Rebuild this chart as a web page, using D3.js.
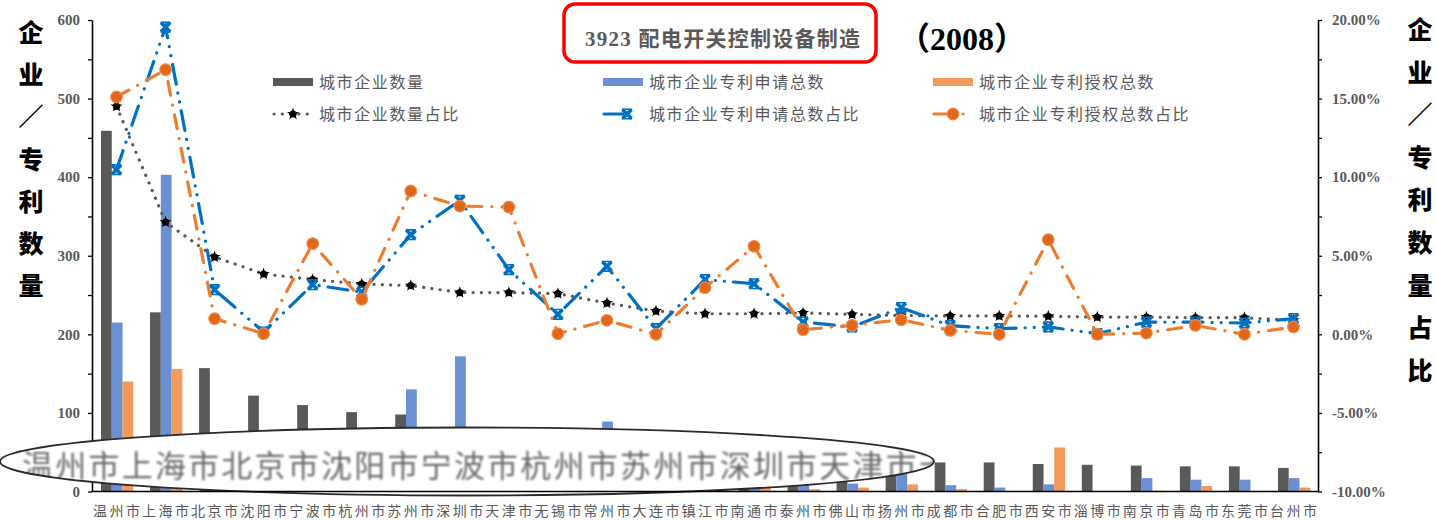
<!DOCTYPE html>
<html>
<head>
<meta charset="utf-8">
<script src="https://cdn.jsdelivr.net/npm/d3@7"></script>
<style>
  body { margin: 0; background: #fff; }
  svg { display: block; }
</style>
</head>
<body>
<svg id="chart" width="1437" height="520"></svg>
<script>
// ---- data: 3923 配电开关控制设备制造 (2008) ----
const cities = ["温州市","上海市","北京市","沈阳市","宁波市","杭州市","苏州市","深圳市","天津市","无锡市",
  "常州市","大连市","镇江市","南通市","泰州市","佛山市","扬州市","成都市","合肥市","西安市",
  "淄博市","南京市","青岛市","东莞市","台州市"];

// 城市企业数量
const firmCount  = [459, 228, 157, 122, 110, 101, 98, 82, 81, 79, 63, 47, 42, 42, 42, 40, 38, 37, 37, 35, 34, 33, 32, 32, 30];
// 城市企业专利申请总数
const applyCount = [215, 403, 58, 3, 65, 55, 130, 172, 80, 26, 89, 7, 71, 66, 16, 10, 35, 8, 5, 9, 0, 17, 15, 15, 17];
// 城市企业专利授权总数
const grantCount = [140, 156, 9, 0, 53, 21, 80, 75, 75, 0, 8, 0, 27, 52, 3, 5, 9, 3, 0, 56, 0, 1, 7, 0, 5];

// 占比 (%)
const firmShare  = [14.5, 7.14, 4.92, 3.84, 3.48, 3.2, 3.1, 2.66, 2.66, 2.59, 1.99, 1.48, 1.31, 1.31, 1.36, 1.27, 1.2, 1.17, 1.17, 1.15, 1.1, 1.1, 1.06, 1.06, 0.89];
const applyShare = [10.48, 19.55, 2.84, 0.15, 3.16, 2.69, 6.34, 8.52, 4.12, 1.27, 4.33, 0.36, 3.48, 3.22, 0.78, 0.47, 1.7, 0.55, 0.36, 0.47, 0.04, 0.78, 0.78, 0.72, 1.0];
const grantShare = [15.1, 16.84, 1.0, 0.04, 5.77, 2.23, 9.12, 8.16, 8.1, 0.04, 0.89, 0.0, 2.97, 5.6, 0.3, 0.57, 0.93, 0.25, 0.0, 6.02, 0.0, 0.08, 0.57, 0.0, 0.47];

const leftTicks  = [0, 50, 100, 150, 200, 250, 300, 350, 400, 450, 500, 550, 600];
const rightTicks = [-10, -7.5, -5, -2.5, 0, 2.5, 5, 7.5, 10, 12.5, 15, 17.5, 20];

const titleMain = "3923 配电开关控制设备制造";
const titleYear = "（2008）";
const leftTitle  = ["企","业","／","专","利","数","量"];
const rightTitle = ["企","业","／","专","利","数","量","占","比"];

// ---- layout ----
const W = 1437, H = 520;
const plot = { left: 92, right: 1318, top: 20, bottom: 491.5 };
const GREY = "#595959";
const CJK = "'Noto Sans CJK SC', sans-serif";
const SERIF = "'Liberation Serif', 'Noto Sans CJK SC', serif";

const svg = d3.select("#chart");

const x = d3.scaleBand().domain(cities).range([plot.left, plot.right]).padding(0);
const sub = d3.scaleBand().domain(["firm", "apply", "grant"]).range([9, 41.3]).padding(0);
const yL = d3.scaleLinear().domain([0, 600]).range([plot.bottom, plot.top]);
const yR = d3.scaleLinear().domain([-10, 20]).range([plot.bottom, plot.top]);

const barSeries = [
  { key: "firm",  name: "城市企业数量",         values: firmCount,  color: "#595959" },
  { key: "apply", name: "城市企业专利申请总数", values: applyCount, color: "#6A8FD3" },
  { key: "grant", name: "城市企业专利授权总数", values: grantCount, color: "#F19A5B" }
];

const lineSeries = [
  { key: "firm",  name: "城市企业数量占比",         values: firmShare,  color: "#595959", dash: "0.1 8.2",            width: 3.2, marker: "star"   },
  { key: "apply", name: "城市企业专利申请总数占比", values: applyShare, color: "#0070C0", dash: "20 9 0.1 9 0.1 9",   width: 3.2, marker: "cross"  },
  { key: "grant", name: "城市企业专利授权总数占比", values: grantShare, color: "#ED7D31", dash: "14 10 0.1 10",       width: 3.2, marker: "circle" }
];

// ---- bars ----
const gBars = svg.append("g");
barSeries.forEach(s => {
  gBars.selectAll(null)
    .data(cities.map((c, i) => ({ c, v: s.values[i] })))
    .join("rect")
    .attr("x", d => x(d.c) + sub(s.key))
    .attr("width", sub.bandwidth())
    .attr("y", d => yL(d.v))
    .attr("height", d => yL(0) - yL(d.v))
    .attr("fill", s.color);
});

// ---- markers ----
function drawMarker(sel, type, color) {
  if (type === "star") {
    sel.append("circle").attr("r", 3.6).attr("fill", "#000");
    sel.append("path").attr("d", d3.symbol().type(d3.symbolStar).size(46)()).attr("fill", "#000");
  } else if (type === "cross") {
    sel.append("path").attr("d", "M-4.6,-4.6L4.6,4.6M4.6,-4.6L-4.6,4.6")
      .attr("stroke", color).attr("stroke-width", 3.6).attr("fill", "none");
    sel.append("path").attr("d", "M-5,-4.8H5M-5,4.8H5")
      .attr("stroke", color).attr("stroke-width", 1.6).attr("fill", "none");
  } else {
    sel.append("circle").attr("r", 5.8).attr("fill", "#E2671A").attr("stroke", "#EE8A48").attr("stroke-width", 1.2);
  }
}

// ---- share lines ----
const gLines = svg.append("g");
const line = d3.line().x(d => x(d.c) + x.bandwidth() / 2).y(d => yR(d.v));
lineSeries.forEach(s => {
  const pts = cities.map((c, i) => ({ c, v: s.values[i] }));
  gLines.append("path")
    .datum(pts)
    .attr("d", line)
    .attr("fill", "none")
    .attr("stroke", s.color)
    .attr("stroke-width", s.width)
    .attr("stroke-linecap", "round")
    .attr("stroke-dasharray", s.dash);
  gLines.selectAll(null)
    .data(pts)
    .join("g")
    .attr("transform", d => `translate(${x(d.c) + x.bandwidth() / 2},${yR(d.v)})`)
    .each(function () { drawMarker(d3.select(this), s.marker, s.color); });
});

// ---- axes ----
const axisL = svg.append("g")
  .attr("transform", `translate(${plot.left},0)`)
  .call(d3.axisLeft(yL).tickValues(leftTicks).tickSize(4).tickSizeOuter(0).tickPadding(8)
    .tickFormat(d => d % 100 === 0 ? d : ""));
const axisR = svg.append("g")
  .attr("transform", `translate(${plot.right},0)`)
  .call(d3.axisRight(yR).tickValues(rightTicks).tickSize(4).tickSizeOuter(0).tickPadding(10)
    .tickFormat(d => d % 5 === 0 ? d.toFixed(2) + "%" : ""));
[axisL, axisR].forEach(a => {
  a.select(".domain").attr("stroke", "#000").attr("stroke-width", 1.6);
  a.selectAll(".tick line").attr("stroke", "#000").attr("stroke-width", 1.3);
  a.selectAll(".tick text")
    .attr("fill", GREY).attr("font-family", SERIF).attr("font-weight", "bold").attr("font-size", 15);
});

const axisB = svg.append("g")
  .attr("transform", `translate(0,${plot.bottom})`)
  .call(d3.axisBottom(x).tickSize(0).tickPadding(14.5));
axisB.select(".domain").remove();
axisB.selectAll(".tick text")
  .attr("fill", GREY).attr("font-family", CJK).attr("font-size", 14)
  .attr("textLength", 47).attr("lengthAdjust", "spacing");

// ---- magnified label lens ----
const defs = svg.append("defs");
defs.append("clipPath").attr("id", "lensClip")
  .append("ellipse").attr("cx", 467).attr("cy", 461.5).attr("rx", 467).attr("ry", 34);
defs.append("filter").attr("id", "soft")
  .append("feGaussianBlur").attr("stdDeviation", 0.9);

const lens = svg.append("g");
lens.append("ellipse").attr("cx", 467).attr("cy", 461.5).attr("rx", 467).attr("ry", 34)
  .attr("fill", "#fff");
lens.append("g").attr("clip-path", "url(#lensClip)")
  .append("text")
  .attr("x", 22).attr("y", 476.5)
  .attr("font-family", CJK).attr("font-size", 31)
  .attr("fill", "#6a6a6a")
  .attr("filter", "url(#soft)")
  .attr("textLength", 928).attr("lengthAdjust", "spacing")
  .text(cities.slice(0, 9).join("") + cities[9].charAt(0));
lens.append("ellipse").attr("cx", 467).attr("cy", 461.5).attr("rx", 467).attr("ry", 34)
  .attr("fill", "none").attr("stroke", "#2a2a2a").attr("stroke-width", 1.8);

// category axis line stays visible across the lens
svg.append("line")
  .attr("x1", plot.left).attr("x2", plot.right)
  .attr("y1", plot.bottom).attr("y2", plot.bottom)
  .attr("stroke", "#000").attr("stroke-width", 1.6);

// ---- title ----
svg.append("rect")
  .attr("x", 564).attr("y", 4).attr("width", 312).attr("height", 58).attr("rx", 11)
  .attr("fill", "none").attr("stroke", "#FF0000").attr("stroke-width", 3.5);
const t1 = svg.append("text").attr("x", 585).attr("y", 46)
  .attr("fill", GREY).attr("font-weight", "bold").attr("font-size", 21)
  .attr("textLength", 275).attr("lengthAdjust", "spacing");
t1.append("tspan").attr("font-family", SERIF).text(titleMain.split(" ")[0] + " ");
t1.append("tspan").attr("font-family", CJK).text(titleMain.split(" ")[1]);
svg.append("text").attr("x", 898).attr("y", 50)
  .attr("fill", "#000").attr("font-weight", "bold").attr("font-size", 32)
  .attr("font-family", SERIF).text(titleYear);

// ---- axis titles ----
function vTitle(chars, cx, y0, step) {
  svg.append("g").selectAll("text").data(chars).join("text")
    .attr("x", cx).attr("y", (d, i) => y0 + i * step)
    .attr("text-anchor", "middle").attr("dominant-baseline", "central")
    .attr("font-family", CJK).attr("font-weight", 900).attr("font-size", 25)
    .attr("fill", "#000").text(d => d);
}
vTitle(leftTitle, 31, 31, 42.2);
vTitle(rightTitle, 1420, 28, 42.6);

// ---- legend ----
const legCols = [273, 603, 933];
const legRows = [82, 114];
const legend = svg.append("g");
barSeries.forEach((s, i) => {
  const g = legend.append("g").attr("transform", `translate(${legCols[i]},${legRows[0]})`);
  g.append("rect").attr("x", 0).attr("y", -4).attr("width", 40).attr("height", 8).attr("fill", s.color);
  g.append("text").attr("x", 46).attr("y", 6).attr("fill", GREY)
    .attr("font-family", CJK).attr("font-size", 16).attr("letter-spacing", 1.6).text(s.name);
});
lineSeries.forEach((s, i) => {
  const g = legend.append("g").attr("transform", `translate(${legCols[i]},${legRows[1]})`);
  if (s.marker === "star") {
    g.append("line").attr("x1", 1).attr("x2", 40).attr("stroke", s.color).attr("stroke-width", s.width)
      .attr("stroke-linecap", "round").attr("stroke-dasharray", s.dash);
    drawMarker(g.append("g").attr("transform", "translate(20,0)"), s.marker, s.color);
  } else if (s.marker === "cross") {
    g.append("line").attr("x1", 1).attr("x2", 20).attr("stroke", s.color).attr("stroke-width", s.width)
      .attr("stroke-linecap", "round");
    drawMarker(g.append("g").attr("transform", "translate(24,0)"), s.marker, s.color);
  } else {
    g.append("line").attr("x1", 1).attr("x2", 14).attr("stroke", s.color).attr("stroke-width", s.width)
      .attr("stroke-linecap", "round");
    drawMarker(g.append("g").attr("transform", "translate(20,0)"), s.marker, s.color);
    g.append("circle").attr("cx", 30).attr("r", 1.6).attr("fill", s.color);
  }
  g.append("text").attr("x", 46).attr("y", 6).attr("fill", GREY)
    .attr("font-family", CJK).attr("font-size", 16).attr("letter-spacing", 1.6).text(s.name);
});
</script>
</body>
</html>
